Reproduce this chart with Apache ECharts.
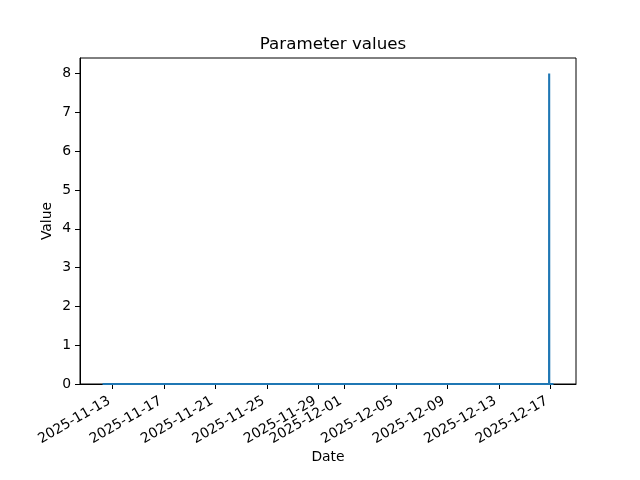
<!DOCTYPE html>
<html>
<head>
<meta charset="utf-8">
<script src="https://cdn.jsdelivr.net/npm/echarts@6/dist/echarts.min.js"></script>
<style>html,body{margin:0;padding:0;background:#fff}#c{width:640px;height:480px}</style>
</head>
<body>
<div id="c"></div>
<script>
// Data
var times = ['2025-11-12T05:00', '2025-12-16T21:50', '2025-12-16T22:00', '2025-12-16T22:10', '2025-12-17T06:00'];
var values = [0, 0, 8, 0, 0];
var tickDates = ['2025-11-13', '2025-11-17', '2025-11-21', '2025-11-25', '2025-11-29', '2025-12-01', '2025-12-05', '2025-12-09', '2025-12-13', '2025-12-17'];
var yTicks = [0, 1, 2, 3, 4, 5, 6, 7, 8];

function ts(s) {
  var p = s.split('T');
  var d = p[0].split('-').map(Number);
  var hm = p[1] ? p[1].split(':').map(Number) : [0, 0];
  return Date.UTC(d[0], d[1] - 1, d[2], hm[0], hm[1]);
}
var tsData = times.map(function (t, i) { return [ts(t), values[i]]; });
var t0 = tsData[0][0], t1 = tsData[tsData.length - 1][0];
var span = t1 - t0;
var xMin = t0 - 0.05 * span, xMax = t1 + 0.05 * span;
var yMax = Math.max.apply(null, values) * 1.05;
function pad(n) { return n < 10 ? '0' + n : '' + n; }
function fmt(v) { var d = new Date(v); return d.getUTCFullYear() + '-' + pad(d.getUTCMonth() + 1) + '-' + pad(d.getUTCDate()); }

var font = 'DejaVu Sans';
var chart = echarts.init(document.getElementById('c'), null, { renderer: 'canvas' });
chart.setOption({
  animation: false,
  backgroundColor: '#fff',
  title: {
    text: 'Parameter values', left: 328, top: 31, textAlign: 'center',
    textStyle: { fontFamily: font, fontSize: 16.7, fontWeight: 'normal', color: '#000' }
  },
  grid: { left: 80, right: 64, top: 58, bottom: 96, show: true, borderColor: '#000', borderWidth: 1, backgroundColor: 'transparent' },
  xAxis: {
    type: 'value', min: xMin, max: xMax, scale: true,
    name: 'Date', nameLocation: 'middle', nameGap: 66, nameMoveOverlap: false,
    nameTextStyle: { fontFamily: font, fontSize: 13.9, color: '#000' },
    axisLine: { show: true, onZero: false, lineStyle: { color: '#000', width: 1 } },
    axisTick: { show: true, length: 5, lineStyle: { color: '#000' }, customValues: tickDates.map(ts) },
    axisLabel: { rotate: 30, margin: 14, padding: [0, 4, 0, 0], fontFamily: font, fontSize: 13.9, color: '#000', customValues: tickDates.map(ts), formatter: function (v) { return fmt(v); }, hideOverlap: false },
    splitLine: { show: false }
  },
  yAxis: {
    type: 'value', min: 0, max: yMax,
    name: 'Value', nameLocation: 'middle', nameGap: 26, nameMoveOverlap: false,
    nameTextStyle: { fontFamily: font, fontSize: 13.9, color: '#000' },
    axisLine: { show: true, lineStyle: { color: '#000', width: 1 } },
    axisTick: { show: true, length: 5, lineStyle: { color: '#000' }, customValues: yTicks },
    axisLabel: { margin: 9, fontFamily: font, fontSize: 13.9, color: '#000', customValues: yTicks },
    splitLine: { show: false }
  },
  series: [{
    type: 'line', data: tsData, showSymbol: false, symbol: 'none',
    lineStyle: { color: '#1f77b4', width: 2.1 }, itemStyle: { color: '#1f77b4' }
  }]
});
</script>
</body>
</html>
